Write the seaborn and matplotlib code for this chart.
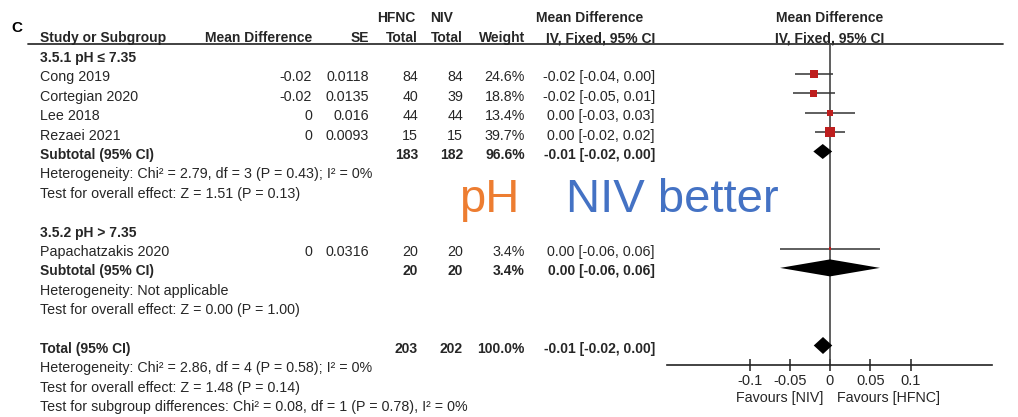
import matplotlib
matplotlib.use("Agg")
import matplotlib.pyplot as plt
import seaborn as sns
import numpy as np
import pandas as pd

sns.set_theme(style="white")
plt.rcParams['font.family'] = ['Liberation Sans', 'DejaVu Sans']

# ---------------- data ----------------
studies = ["Cong 2019", "Cortegian 2020", "Lee 2018", "Rezaei 2021", "Papachatzakis 2020"]
subgroup = ["g1", "g1", "g1", "g1", "g2"]
md = [-0.02, -0.02, 0.0, 0.0, 0.0]
se = [0.0118, 0.0135, 0.016, 0.0093, 0.0316]
hfnc_total = [84, 40, 44, 15, 20]
niv_total = [84, 39, 44, 15, 20]
weight = [24.6, 18.8, 13.4, 39.7, 3.4]
ci_text = ["-0.02 [-0.04, 0.00]", "-0.02 [-0.05, 0.01]", "0.00 [-0.03, 0.03]",
           "0.00 [-0.02, 0.02]", "0.00 [-0.06, 0.06]"]
md_text = ["-0.02", "-0.02", "0", "0", "0"]
se_text = ["0.0118", "0.0135", "0.016", "0.0093", "0.0316"]

# pooled estimates: subtotal 1, subtotal 2, total
pool_names = ["Subtotal (95% CI)", "Subtotal (95% CI)", "Total (95% CI)"]
pool_md = [-0.009, 0.0, -0.0087]
pool_lo = [-0.0207, -0.062, -0.0202]
pool_hi = [0.0027, 0.062, 0.0028]
pool_hfnc = [183, 20, 203]
pool_niv = [182, 20, 202]
pool_weight = ["96.6%", "3.4%", "100.0%"]
pool_ci_text = ["-0.01 [-0.02, 0.00]", "0.00 [-0.06, 0.06]", "-0.01 [-0.02, 0.00]"]

ticks = [-0.1, -0.05, 0, 0.05, 0.1]
tick_labels = ["-0.1", "-0.05", "0", "0.05", "0.1"]

df = pd.DataFrame({"study": studies, "md": md, "se": se, "weight": weight})
df["lo"] = df["md"] - 1.96 * df["se"]
df["hi"] = df["md"] + 1.96 * df["se"]

# ---------------- layout ----------------
W, H = 1018, 417
fig = plt.figure(figsize=(W / 100, H / 100), dpi=100)
tax = fig.add_axes([0, 0, 1, 1])
tax.set_xlim(0, W)
tax.set_ylim(H, 0)
tax.axis("off")

row0, dy = 58.0, 19.4
def ry(i):
    return row0 + dy * i

study_rows = [1, 2, 3, 4, 10]
pool_rows = [5, 11, 15]

TXT = "#262626"
kw = dict(fontsize=10.3, color=TXT, va="center")
bkw = dict(fontsize=10, color=TXT, va="center", fontweight="bold")

# column x positions (pixels)
X_NAME, X_MD, X_SE, X_HF, X_NIV, X_W, X_CI = 40, 312, 369, 418, 463, 525, 655

tax.text(11, 28, "C", fontsize=11, fontweight="bold", color="black", va="center")
# headers
tax.text(377, 18, "HFNC", ha="left", **bkw)
tax.text(430, 18, "NIV", ha="left", **bkw)
tax.text(590, 18, "Mean Difference", ha="center", **bkw)
tax.text(830, 18, "Mean Difference", ha="center", **bkw)
tax.text(X_NAME, 38, "Study or Subgroup", ha="left", **bkw)
tax.text(X_MD, 38, "Mean Difference", ha="right", **bkw)
tax.text(X_SE, 38, "SE", ha="right", **bkw)
tax.text(X_HF, 38, "Total", ha="right", **bkw)
tax.text(X_NIV, 38, "Total", ha="right", **bkw)
tax.text(X_W, 38, "Weight", ha="right", **bkw)
tax.text(X_CI, 38, "IV, Fixed, 95% CI", ha="right", **bkw)
tax.text(830, 38, "IV, Fixed, 95% CI", ha="center", **bkw)
tax.plot([28, 1003], [44, 44], color="#333333", lw=1.3)

tax.text(X_NAME, ry(0), "3.5.1 pH \u2264 7.35", ha="left", **bkw)
tax.text(X_NAME, ry(9), "3.5.2 pH > 7.35", ha="left", **bkw)

for i, r in enumerate(study_rows):
    y = ry(r)
    tax.text(X_NAME, y, studies[i], ha="left", **kw)
    tax.text(X_MD, y, md_text[i], ha="right", **kw)
    tax.text(X_SE, y, se_text[i], ha="right", **kw)
    tax.text(X_HF, y, str(hfnc_total[i]), ha="right", **kw)
    tax.text(X_NIV, y, str(niv_total[i]), ha="right", **kw)
    tax.text(X_W, y, f"{weight[i]:.1f}%", ha="right", **kw)
    tax.text(X_CI, y, ci_text[i], ha="right", **kw)

for j, r in enumerate(pool_rows):
    y = ry(r)
    tax.text(X_NAME, y, pool_names[j], ha="left", **bkw)
    tax.text(X_HF, y, str(pool_hfnc[j]), ha="right", **bkw)
    tax.text(X_NIV, y, str(pool_niv[j]), ha="right", **bkw)
    tax.text(X_W, y, pool_weight[j], ha="right", **bkw)
    tax.text(X_CI, y, pool_ci_text[j], ha="right", **bkw)

notes = {
    6: "Heterogeneity: Chi\u00b2 = 2.79, df = 3 (P = 0.43); I\u00b2 = 0%",
    7: "Test for overall effect: Z = 1.51 (P = 0.13)",
    12: "Heterogeneity: Not applicable",
    13: "Test for overall effect: Z = 0.00 (P = 1.00)",
    16: "Heterogeneity: Chi\u00b2 = 2.86, df = 4 (P = 0.58); I\u00b2 = 0%",
    17: "Test for overall effect: Z = 1.48 (P = 0.14)",
    18: "Test for subgroup differences: Chi\u00b2 = 0.08, df = 1 (P = 0.78), I\u00b2 = 0%",
}
for r, t in notes.items():
    tax.text(X_NAME, ry(r), t, ha="left", **kw)

# big overlay text
tax.text(459, 212, "pH", fontsize=34, color="#ED7D31", ha="left", va="baseline")
tax.text(566, 212, "NIV better", fontsize=34, color="#4472C4", ha="left", va="baseline")

# ---------------- forest axes ----------------
x0_px, scale = 830.0, 805.0
ax_l, ax_r, ax_t, ax_b = 667, 992, 44, 365
fax = fig.add_axes([ax_l / W, 1 - ax_b / H, (ax_r - ax_l) / W, (ax_b - ax_t) / H])
fax.set_xlim((ax_l - x0_px) / scale, (ax_r - x0_px) / scale)
fax.set_ylim(ax_b, ax_t)
fax.patch.set_alpha(0)
for s in ["top", "left", "right"]:
    fax.spines[s].set_visible(False)
fax.spines["bottom"].set_color("#222222")
fax.spines["bottom"].set_linewidth(1.2)
fax.set_yticks([])
fax.set_xticks(ticks)
fax.set_xticklabels(tick_labels, fontsize=10.5, color=TXT)
fax.tick_params(axis="x", direction="inout", length=9, width=1.1, color="#222222", pad=2, bottom=True)
fax.axvline(0, color="#444444", lw=1.2, zorder=1)

off = -3.5
df["y"] = [ry(r) + off for r in study_rows]
fax.hlines(df["y"], df["lo"], df["hi"], color="#333333", lw=1.1, zorder=2)
sns.scatterplot(data=df, x="md", y="y", size="weight", sizes=(0, 52), size_norm=(0, 39.7),
                marker="s", color="#BE1E1E", edgecolor="none", legend=False, ax=fax, zorder=3)

for j, r in enumerate(pool_rows):
    y = ry(r) + off
    h = 7.5 if j == 0 else 8.5
    fax.fill([pool_lo[j], pool_md[j], pool_hi[j], pool_md[j]], [y, y - h, y, y + h],
             color="black", zorder=4, lw=0)

fax.set_xlabel("")
fax.set_ylabel("")
tax.text(823, 398, "Favours [NIV]", ha="right", **kw)
tax.text(837, 398, "Favours [HFNC]", ha="left", **kw)

fig.savefig("out.png", dpi=100)
